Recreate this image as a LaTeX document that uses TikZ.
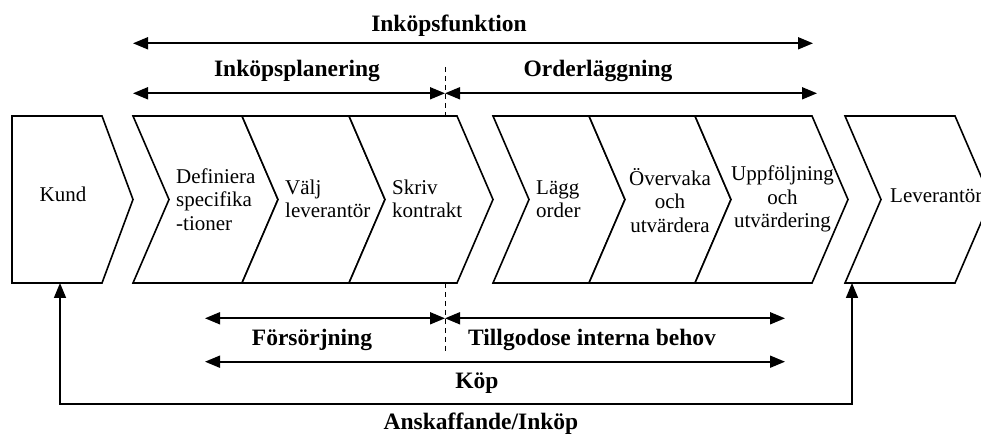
\documentclass[tikz,border=0pt]{standalone}
\usepackage{fontspec}
\setmainfont{Liberation Serif}
\usetikzlibrary{arrows.meta}

% process step: chevron between x=#1 (top left) and x=#2 (top right)
\newcommand\procchev[2]{%
  \draw[stepbox] (#1,319) -- (#2,319) -- ({#2+36},235.5) -- (#2,152)
    -- (#1,152) -- ({#1+36},235.5) -- cycle;}

\begin{document}
\begin{tikzpicture}[x=1pt,y=1pt,
  stepbox/.style={draw=black, fill=white, line width=1.6pt, line join=miter},
  tip/.tip={Triangle[length=15pt,width=12pt]},
  span/.style={line width=1.8pt, tip-tip},
  steptext/.style={font=\fontsize{21}{23.5}\selectfont, inner sep=0pt},
  head/.style={font=\fontsize{23.5}{26}\selectfont\bfseries, inner sep=0pt, anchor=base},
  divider/.style={line width=0.9pt, dash pattern=on 5pt off 4pt}]

\useasboundingbox (0,0) rectangle (981,435);
\clip (0,0) rectangle (981,435);

% boundary between planning and ordering
\coordinate (divT) at (445,368);
\coordinate (divB) at (445,83);
\draw[divider] (divT) -- (divB);

% customer
\draw[stepbox] (12,319) -- (102,319) -- (133,235.5) -- (102,152) -- (12,152) -- cycle;
% purchasing steps
\procchev{133}{242}
\procchev{242}{349}
\procchev{349}{457}
\procchev{493}{589}
\procchev{589}{695}
\procchev{695}{812}
% supplier
\procchev{845}{955}

% step texts
\node[steptext, anchor=base] (kund) at (63,233.3) {Kund};
\node[steptext, anchor=west, align=left] (def) at (176,235.5) {Definiera\\specifika\\-tioner};
\node[steptext, anchor=west, align=left] (valj) at (285,236) {Välj\\leverantör};
\node[steptext, anchor=west, align=left] (skriv) at (392,236) {Skriv\\kontrakt};
\node[steptext, anchor=west, align=left] (lagg) at (536,236) {Lägg\\order};
\node[steptext, align=center] (overv) at (670,234.5) {Övervaka\\och\\utvärdera};
\node[steptext, align=center] (uppf) at (782.5,236) {Uppföljning\\och\\utvärdering};
\node[steptext, anchor=base west] (lev) at (890,232.5) {Leverantör};

% upper spans
\coordinate (fnL) at (133,391.7);
\coordinate (fnR) at (813,391.7);
\draw[span] (fnL) -- (fnR);
\node[head] (fn) at (449,403.5) {Inköpsfunktion};

\coordinate (planL) at (133,341.7);
\coordinate (planR) at (445,341.7);
\coordinate (ordR) at (817,341.7);
\draw[span] (planL) -- (planR);
\draw[span] (planR) -- (ordR);
\node[head] (plan) at (297,358.3) {Inköpsplanering};
\node[head] (ord) at (598,358.3) {Orderläggning};

% lower spans
\coordinate (forsL) at (205,116.7);
\coordinate (forsR) at (445,116.7);
\coordinate (tillR) at (785,116.7);
\draw[span] (forsL) -- (forsR);
\draw[span] (forsR) -- (tillR);
\node[head] (fors) at (312,89) {Försörjning};
\node[head] (till) at (592,89) {Tillgodose interna behov};

\coordinate (kopL) at (205,73.3);
\coordinate (kopR) at (785,73.3);
\draw[span] (kopL) -- (kopR);
\node[head] (kop) at (477,46) {Köp};

% acquisition loop between customer and supplier
\coordinate (kundB) at (60,152);
\coordinate (levB) at (852,152);
\coordinate (loopB) at (456,31);
\draw[span, line width=1.6pt] (kundB) |- (loopB) -| (levB);
\node[head] (ansk) at (481,5.5) {Anskaffande/Inköp};

\end{tikzpicture}
\end{document}
